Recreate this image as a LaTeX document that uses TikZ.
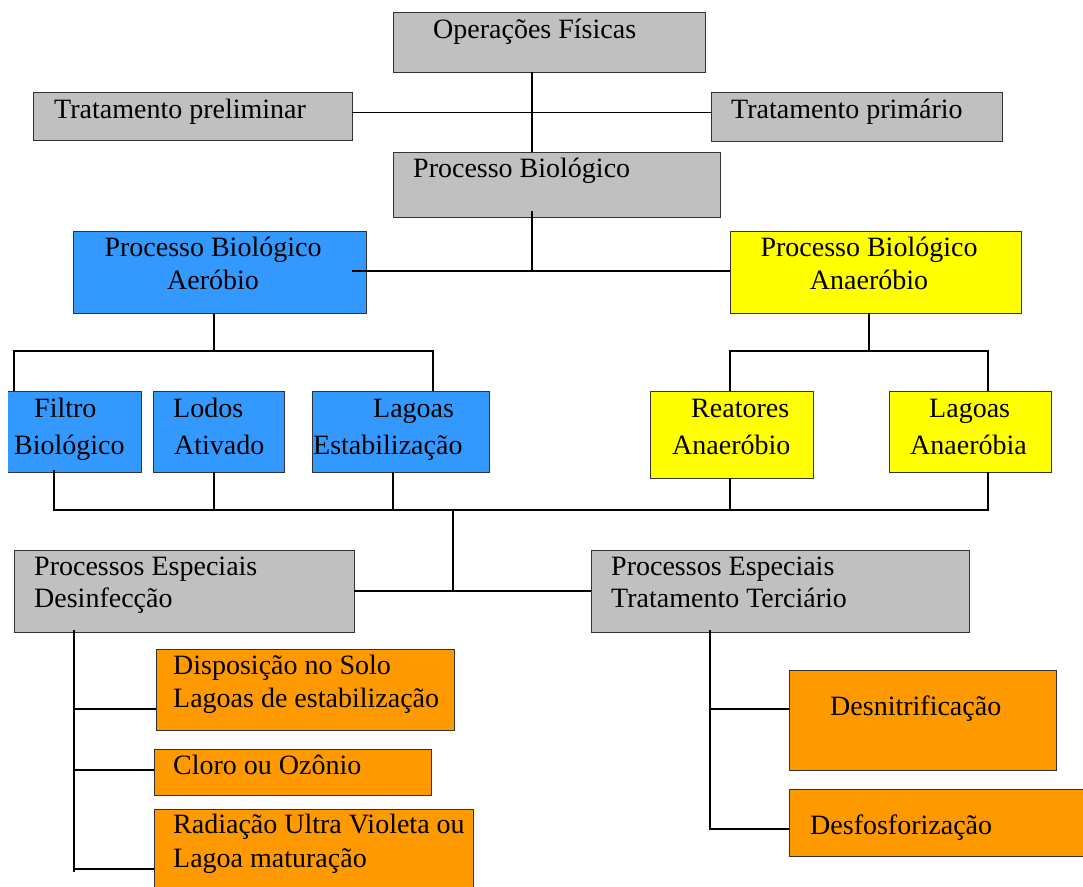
\documentclass[tikz,border=0pt]{standalone}
\usepackage{fontspec}
\setmainfont{Liberation Serif}
\definecolor{cgray}{HTML}{C0C0C0}
\definecolor{cblue}{HTML}{3399FF}
\definecolor{cyel}{HTML}{FFFF00}
\definecolor{corg}{HTML}{FF9900}
\definecolor{cedge}{HTML}{333333}
\begin{document}
\begin{tikzpicture}[x=1pt,y=-1pt,
  box/.style={draw=cedge,line width=1pt,inner sep=0pt,outer sep=0pt},
  boxfill/.style={inner sep=0pt,outer sep=0pt},
  edgeline/.style={draw=cedge,line width=1pt},
  conn/.style={draw=black,line width=1.4pt},
  txt/.style={inner sep=0pt,anchor=base west,font=\fontsize{28}{34}\selectfont},
  ctxt/.style={inner sep=0pt,anchor=base,font=\fontsize{28}{34}\selectfont}]
\useasboundingbox (0,0) rectangle (1083,886);
\fill[white] (0,0) rectangle (1083,886);

% boxes
\node[box,fill=cgray,minimum width=312,minimum height=60] (op) at (549,42) {};
\node[box,fill=cgray,minimum width=319,minimum height=48] (tpre) at (192.5,116) {};
\node[box,fill=cgray,minimum width=291,minimum height=49] (tpri) at (856.5,116.5) {};
\node[box,fill=cgray,minimum width=327,minimum height=65] (pb) at (556.5,184.5) {};
\node[box,fill=cblue,minimum width=293,minimum height=82] (aer) at (219.5,272) {};
\node[box,fill=cyel,minimum width=291,minimum height=82] (ana) at (875.5,272) {};
\node[boxfill,fill=cblue,minimum width=133,minimum height=81] (fil) at (74.5,431.5) {};
\draw[edgeline] (fil.north west) -- (fil.north east) -- (fil.south east) -- (fil.south west);
\node[box,fill=cblue,minimum width=131,minimum height=81] (lod) at (218.5,431.5) {};
\node[box,fill=cblue,minimum width=177,minimum height=81] (lag) at (400.5,431.5) {};
\node[box,fill=cyel,minimum width=163,minimum height=87] (rea) at (731.5,434.5) {};
\node[box,fill=cyel,minimum width=162,minimum height=81] (laa) at (970,431.5) {};
\node[box,fill=cgray,minimum width=340,minimum height=82] (des) at (184,591) {};
\node[box,fill=cgray,minimum width=378,minimum height=82] (ter) at (780,591) {};
\node[box,fill=corg,minimum width=298,minimum height=81] (dis) at (305,689.5) {};
\node[box,fill=corg,minimum width=277,minimum height=46] (clo) at (292.5,772) {};
\node[box,fill=corg,minimum width=319,minimum height=83] (rad) at (313.5,850.5) {};
\node[box,fill=corg,minimum width=267,minimum height=100] (dni) at (922.5,720) {};
\node[box,fill=corg,minimum width=303,minimum height=67] (dfo) at (940.5,822.5) {};

% junction coordinates
\coordinate (j1) at (532,112);
\coordinate (j2) at (532,271);
\coordinate (a1) at (352,271);
\coordinate (j3) at (214,351);
\coordinate (j3l) at (14,351);
\coordinate (j3r) at (433,351);
\coordinate (j4) at (869,351);
\coordinate (j4l) at (730,351);
\coordinate (j4r) at (988,351);
\coordinate (bl) at (54,510);
\coordinate (bm1) at (214,510);
\coordinate (bm2) at (393,510);
\coordinate (bm3) at (730,510);
\coordinate (br) at (988,510);
\coordinate (bj) at (453,510);
\coordinate (dv) at (74,630);
\coordinate (dvb) at (74,872);
\coordinate (tv) at (710,630);
\coordinate (tvb) at (710,829);

% connectors
\draw[conn] (op.south -| j1) -- (pb.north -| j1);
\draw[conn,line width=1pt] (tpre.east |- j1) -- (tpri.west |- j1);
\draw[conn] (pb.south -| j2) ++(0,-6) -- (j2);
\draw[conn] (a1) -- (ana.west |- a1);
\draw[conn] (aer.south -| j3) -- (j3);
\draw[conn] (fil.north -| j3l) -- (j3l) -- (j3r) -- (lag.north -| j3r);
\draw[conn] (ana.south -| j4) -- (j4);
\draw[conn] (rea.north -| j4l) -- (j4l) -- (j4r) -- (laa.north -| j4r);
\draw[conn] (fil.south -| bl) ++(0,-2) -- (bl) -- (br) -- (laa.south -| br);
\draw[conn] (lod.south -| bm1) -- (bm1);
\draw[conn] (lag.south -| bm2) -- (bm2);
\draw[conn] (rea.south -| bm3) -- (bm3);
\draw[conn] (bj) -- (bj |- des.east);
\draw[conn] (des.east) -- (ter.west);
\draw[conn,line width=1.2pt] (dv) -- (dvb);
\draw[conn,line width=1.2pt] (dv |- 0,709) -- (dis.west |- 0,709);
\draw[conn,line width=1.2pt] (dv |- 0,770) -- (clo.west |- 0,770);
\draw[conn,line width=1.2pt] (dv |- 0,869) -- (rad.west |- 0,869);
\draw[conn] (tv) -- (tvb) -- (dfo.west |- tvb);
\draw[conn] (tv |- 0,709) -- (dni.west |- 0,709);

% texts
\node[txt] (t1) at (433,38) {Operações Físicas};
\node[txt] (t2) at (54,118) {Tratamento preliminar};
\node[txt] (t3) at (731,118) {Tratamento primário};
\node[txt] (t4) at (413,177) {Processo Biológico};
\node[ctxt] (t5) at (213,256) {Processo Biológico};
\node[ctxt] (t6) at (213,289) {Aeróbio};
\node[ctxt] (t7) at (869,256) {Processo Biológico};
\node[ctxt] (t8) at (869,289) {Anaeróbio};
\node[txt] (t9) at (34,417) {Filtro};
\node[txt] (t10) at (14,454) {Biológico};
\node[txt] (t11) at (173,417) {Lodos};
\node[txt] (t12) at (174,454) {Ativado};
\node[txt] (t13) at (373,417) {Lagoas};
\node[txt] (t14) at (313,454) {Estabilização};
\node[txt] (t15) at (691,417) {Reatores};
\node[txt] (t16) at (672,454) {Anaeróbio};
\node[txt] (t17) at (929,417) {Lagoas};
\node[txt] (t18) at (910,454) {Anaeróbia};
\node[txt] (t19) at (34,575) {Processos Especiais};
\node[txt] (t20) at (34,607) {Desinfecção};
\node[txt] (t21) at (611,575) {Processos Especiais};
\node[txt] (t22) at (611,607) {Tratamento Terciário};
\node[txt] (t23) at (173,674) {Disposição no Solo};
\node[txt] (t24) at (173,707) {Lagoas de estabilização};
\node[txt] (t25) at (173,774) {Cloro ou Ozônio};
\node[txt] (t26) at (173,833) {Radiação Ultra Violeta ou};
\node[txt] (t27) at (173,867) {Lagoa maturação};
\node[txt] (t28) at (830,715) {Desnitrificação};
\node[txt] (t29) at (810,834) {Desfosforização};
\end{tikzpicture}
\end{document}
